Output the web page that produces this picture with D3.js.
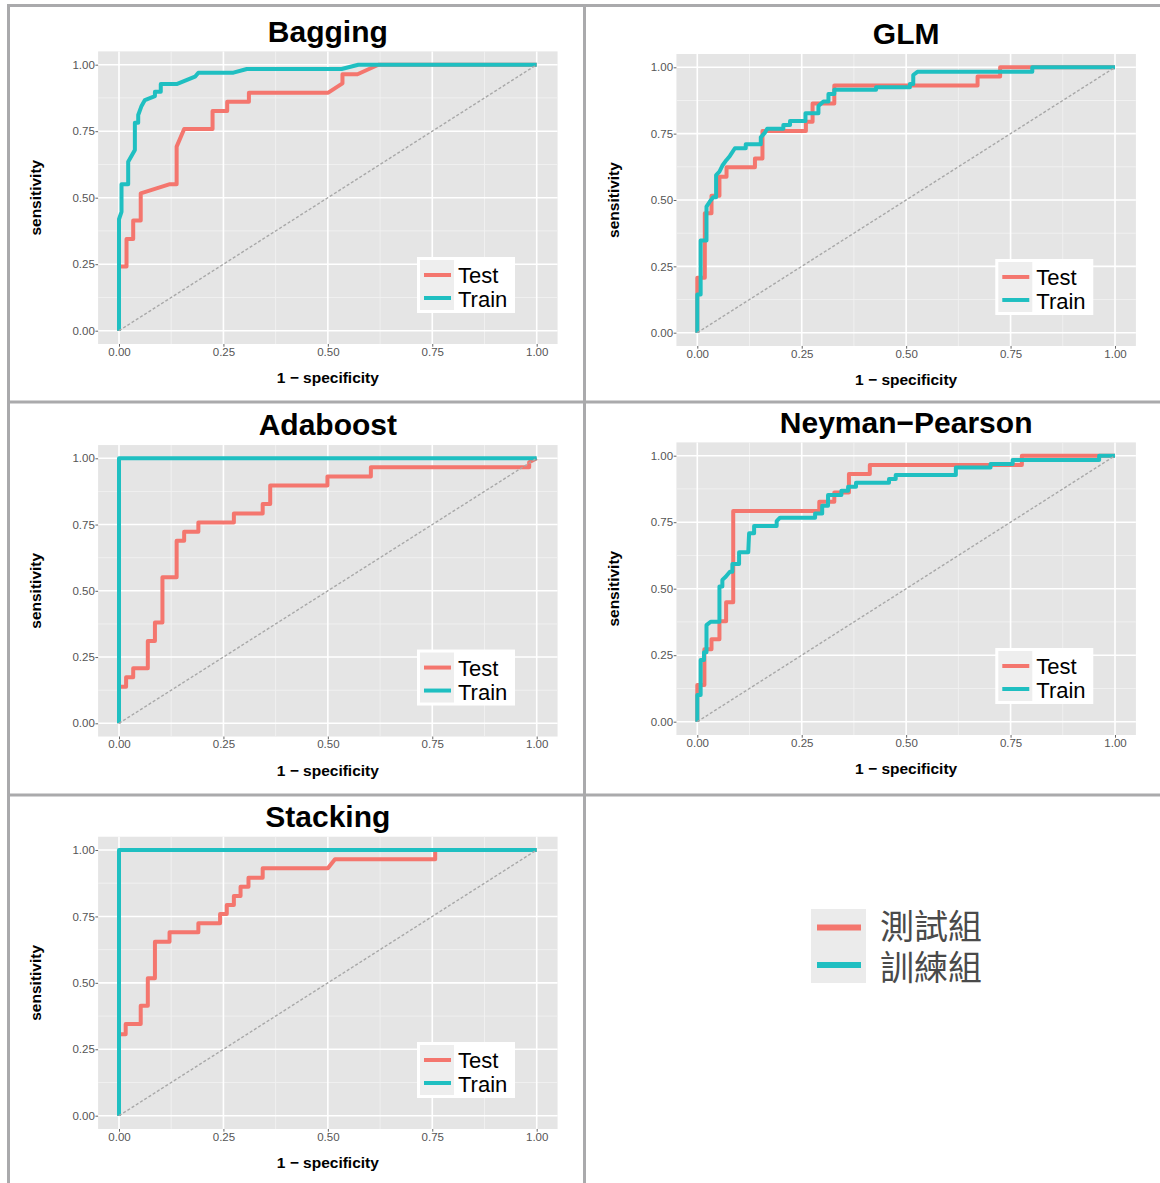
<!DOCTYPE html>
<html>
<head>
<meta charset="utf-8">
<script src="https://cdn.jsdelivr.net/npm/d3@7"></script>
<style>
body { margin: 0; background: #fff; }
svg { display: block; font-family: "Liberation Sans", Arial, Helvetica, sans-serif; }
</style>
</head>
<body>
<svg id="chart" width="1160" height="1183"></svg>
<script>
// ROC curve points [1 - specificity, sensitivity]
var models = ["Bagging", "GLM", "Adaboost", "Neyman\u2212Pearson", "Stacking"];

var baggingTest = [[0,0],[0,0.241],[0.018,0.241],[0.018,0.345],[0.034,0.345],[0.034,0.414],[0.052,0.414],[0.052,0.516],[0.122,0.551],[0.138,0.551],[0.138,0.692],[0.156,0.758],[0.224,0.758],[0.224,0.826],[0.259,0.826],[0.259,0.861],[0.311,0.861],[0.311,0.895],[0.501,0.895],[0.535,0.93],[0.535,0.964],[0.571,0.964],[0.621,1],[1,1]];
var baggingTrain = [[0,0],[0,0.419],[0.006,0.447],[0.006,0.551],[0.022,0.551],[0.022,0.635],[0.038,0.679],[0.038,0.782],[0.046,0.782],[0.046,0.811],[0.054,0.845],[0.062,0.867],[0.086,0.882],[0.086,0.898],[0.1,0.898],[0.1,0.927],[0.138,0.927],[0.182,0.955],[0.19,0.97],[0.274,0.97],[0.306,0.984],[0.533,0.984],[0.573,1],[1,1]];

var glmTest = [[0,0],[0,0.207],[0.018,0.207],[0.018,0.45],[0.034,0.45],[0.034,0.516],[0.053,0.516],[0.053,0.588],[0.07,0.588],[0.07,0.623],[0.138,0.623],[0.138,0.656],[0.156,0.656],[0.156,0.76],[0.26,0.76],[0.26,0.795],[0.276,0.795],[0.276,0.864],[0.328,0.864],[0.328,0.931],[0.671,0.931],[0.671,0.965],[0.725,0.965],[0.725,1],[1,1]];
var glmTrain = [[0,0],[0,0.144],[0.008,0.144],[0.008,0.347],[0.022,0.347],[0.022,0.475],[0.03,0.494],[0.038,0.51],[0.045,0.51],[0.045,0.594],[0.053,0.607],[0.061,0.632],[0.07,0.651],[0.078,0.666],[0.09,0.695],[0.116,0.695],[0.116,0.71],[0.152,0.71],[0.152,0.736],[0.162,0.754],[0.167,0.768],[0.206,0.768],[0.206,0.783],[0.222,0.783],[0.222,0.798],[0.259,0.798],[0.259,0.827],[0.29,0.827],[0.29,0.854],[0.302,0.871],[0.314,0.871],[0.314,0.899],[0.328,0.899],[0.328,0.915],[0.428,0.915],[0.428,0.925],[0.509,0.925],[0.509,0.937],[0.517,0.937],[0.517,0.971],[0.527,0.983],[0.802,0.983],[0.802,1],[1,1]];

var adaTest = [[0,0],[0,0.138],[0.017,0.138],[0.017,0.174],[0.034,0.174],[0.034,0.208],[0.069,0.208],[0.069,0.311],[0.086,0.311],[0.086,0.38],[0.104,0.38],[0.104,0.551],[0.138,0.551],[0.138,0.689],[0.156,0.689],[0.156,0.723],[0.19,0.723],[0.19,0.758],[0.275,0.758],[0.275,0.792],[0.344,0.792],[0.344,0.828],[0.362,0.828],[0.362,0.897],[0.499,0.897],[0.499,0.931],[0.603,0.931],[0.603,0.966],[0.982,0.966],[0.982,0.985],[1,1]];
var adaTrain = [[0,0],[0,1],[1,1]];

var npTest = [[0,0],[0,0.138],[0.017,0.138],[0.017,0.272],[0.034,0.272],[0.034,0.31],[0.053,0.31],[0.053,0.378],[0.069,0.378],[0.069,0.449],[0.086,0.449],[0.086,0.792],[0.292,0.792],[0.292,0.827],[0.328,0.827],[0.328,0.862],[0.363,0.862],[0.363,0.931],[0.413,0.931],[0.413,0.965],[0.777,0.965],[0.777,1],[1,1]];
var npTrain = [[0,0],[0,0.1],[0.008,0.1],[0.008,0.232],[0.016,0.232],[0.016,0.261],[0.022,0.261],[0.022,0.363],[0.032,0.376],[0.053,0.376],[0.053,0.508],[0.06,0.508],[0.06,0.533],[0.068,0.545],[0.078,0.564],[0.084,0.564],[0.084,0.593],[0.1,0.593],[0.1,0.637],[0.122,0.637],[0.124,0.708],[0.136,0.708],[0.136,0.736],[0.19,0.736],[0.19,0.754],[0.198,0.767],[0.282,0.767],[0.282,0.783],[0.299,0.783],[0.299,0.812],[0.313,0.812],[0.313,0.852],[0.345,0.852],[0.345,0.868],[0.361,0.868],[0.361,0.883],[0.38,0.883],[0.38,0.898],[0.459,0.898],[0.459,0.912],[0.475,0.912],[0.475,0.927],[0.619,0.927],[0.619,0.956],[0.702,0.956],[0.702,0.969],[0.755,0.969],[0.755,0.984],[0.962,0.984],[0.962,1],[1,1]];

var stackTest = [[0,0],[0,0.307],[0.016,0.307],[0.016,0.345],[0.052,0.345],[0.052,0.414],[0.069,0.414],[0.069,0.517],[0.086,0.517],[0.086,0.655],[0.121,0.655],[0.121,0.69],[0.19,0.69],[0.19,0.724],[0.242,0.724],[0.242,0.759],[0.258,0.759],[0.258,0.793],[0.275,0.793],[0.275,0.827],[0.291,0.827],[0.291,0.862],[0.31,0.862],[0.31,0.896],[0.344,0.896],[0.344,0.931],[0.5,0.931],[0.517,0.965],[0.757,0.965],[0.757,1],[1,1]];
var stackTrain = [[0,0],[0,1],[1,1]];

var testCurves = [baggingTest, glmTest, adaTest, npTest, stackTest];
var trainCurves = [baggingTrain, glmTrain, adaTrain, npTrain, stackTrain];

var tickValues = [0, 0.25, 0.5, 0.75, 1];
var minorTicks = [0.125, 0.375, 0.625, 0.875];
var seriesLabels = ["Test", "Train"];
var groupLabels = ["測試組", "訓練組"];
var xTitle = "1 \u2212 specificity";
var yTitle = "sensitivity";

var colors = ["#F4766E", "#1FBFC1"];

// pixel position of data 0 and 1 for each panel
var layout = [
	{x0: 119, x1: 536.7, y0: 330.7, y1: 64.7},
	{x0: 697.3, x1: 1115, y0: 332.7, y1: 67.3},
	{x0: 119, x1: 536.7, y0: 723.3, y1: 458.3},
	{x0: 697.3, x1: 1115, y0: 721.7, y1: 455.7},
	{x0: 119, x1: 536.7, y0: 1115.7, y1: 850}
];

var svg = d3.select("#chart");
svg.append("rect").attr("width", 1160).attr("height", 1183).attr("fill", "#fff");

for (var i = 0; i < models.length; i++) {
	var L = layout[i];
	var x = d3.scaleLinear().domain([0, 1]).range([L.x0, L.x1]);
	var y = d3.scaleLinear().domain([0, 1]).range([L.y0, L.y1]);
	var bx0 = x(-0.05), bx1 = x(1.05), by0 = y(-0.05), by1 = y(1.05);
	var g = svg.append("g");

	g.append("rect")
		.attr("x", bx0).attr("y", by1)
		.attr("width", bx1 - bx0).attr("height", by0 - by1)
		.attr("fill", "#E5E5E5");

	// grid
	minorTicks.forEach(function(t) {
		g.append("line").attr("x1", x(t)).attr("x2", x(t)).attr("y1", by0).attr("y2", by1)
			.attr("stroke", "#F2F2F2").attr("stroke-width", 0.9);
		g.append("line").attr("x1", bx0).attr("x2", bx1).attr("y1", y(t)).attr("y2", y(t))
			.attr("stroke", "#F2F2F2").attr("stroke-width", 0.9);
	});
	tickValues.forEach(function(t) {
		g.append("line").attr("x1", x(t)).attr("x2", x(t)).attr("y1", by0).attr("y2", by1)
			.attr("stroke", "#fff").attr("stroke-width", 1.6);
		g.append("line").attr("x1", bx0).attr("x2", bx1).attr("y1", y(t)).attr("y2", y(t))
			.attr("stroke", "#fff").attr("stroke-width", 1.6);
	});

	// axes
	var ax = g.append("g").attr("transform", "translate(0," + by0 + ")")
		.call(d3.axisBottom(x).tickValues(tickValues).tickFormat(d3.format(".2f")).tickSize(2.7).tickPadding(0.8));
	var ay = g.append("g").attr("transform", "translate(" + bx0 + ",0)")
		.call(d3.axisLeft(y).tickValues(tickValues).tickFormat(d3.format(".2f")).tickSize(2.7).tickPadding(0.6));
	[ax, ay].forEach(function(a) {
		a.select(".domain").remove();
		a.selectAll("line").attr("stroke", "#666");
		a.selectAll("text").attr("fill", "#555").style("font-size", "11.5px")
			.style("font-family", "'Liberation Sans', Arial, sans-serif");
	});

	// curves
	var line = d3.line().x(function(d) { return x(d[0]); }).y(function(d) { return y(d[1]); });
	g.append("path").attr("d", line(testCurves[i]))
		.attr("fill", "none").attr("stroke", colors[0]).attr("stroke-width", 4)
		.attr("stroke-linejoin", "round");
	g.append("path").attr("d", line(trainCurves[i]))
		.attr("fill", "none").attr("stroke", colors[1]).attr("stroke-width", 4)
		.attr("stroke-linejoin", "round");

	// reference diagonal
	g.append("line")
		.attr("x1", x(0)).attr("y1", y(0)).attr("x2", x(1)).attr("y2", y(1))
		.attr("stroke", "#A8A8A8").attr("stroke-width", 1.4).attr("stroke-dasharray", "3,2");

	// titles
	g.append("text").attr("x", (bx0 + bx1) / 2).attr("y", L.y1 - 23)
		.attr("text-anchor", "middle").style("font-size", "30px").style("font-weight", "bold")
		.text(models[i]);
	g.append("text").attr("x", (bx0 + bx1) / 2).attr("y", by0 + 39)
		.attr("text-anchor", "middle").style("font-size", "15.5px").style("font-weight", "bold")
		.text(xTitle);
	g.append("text")
		.attr("transform", "translate(" + (bx0 - 57.5) + "," + ((by0 + by1) / 2) + ") rotate(-90)")
		.attr("text-anchor", "middle").style("font-size", "15.5px").style("font-weight", "bold")
		.text(yTitle);

	// panel legend
	var lg = g.append("g").attr("transform", "translate(" + (bx1 - 140.6) + "," + (by0 - 87) + ")");
	lg.append("rect").attr("width", 98).attr("height", 56).attr("fill", "#fff");
	lg.append("rect").attr("x", 3).attr("y", 3).attr("width", 34).attr("height", 50).attr("fill", "#EEEEEE");
	seriesLabels.forEach(function(s, k) {
		lg.append("line").attr("x1", 7).attr("x2", 34).attr("y1", 18 + k * 23).attr("y2", 18 + k * 23)
			.attr("stroke", colors[k]).attr("stroke-width", 4);
		lg.append("text").attr("x", 41).attr("y", 26 + k * 24)
			.style("font-size", "22px").attr("fill", "#000").text(s);
	});
}

// big legend in the empty cell
var big = svg.append("g");
big.append("rect").attr("x", 811).attr("y", 909).attr("width", 55).attr("height", 74).attr("fill", "#EBEBEB");
[927.5, 965].forEach(function(yy, k) {
	big.append("line").attr("x1", 817).attr("x2", 861).attr("y1", yy).attr("y2", yy)
		.attr("stroke", colors[k]).attr("stroke-width", 6);
});
var bigText = big.append("text")
	.style("font-family", "'Noto Sans CJK TC', 'Noto Sans CJK SC', sans-serif")
	.style("font-size", "34px").attr("fill", "#4A4A4A");
groupLabels.forEach(function(s, k) {
	bigText.append("tspan").attr("x", 880).attr("y", 939 + k * 41).text(s);
});

// frame lines between cells
var frame = svg.append("g").attr("stroke", "#AAAAAC").attr("stroke-width", 3);
frame.append("line").attr("x1", 7).attr("x2", 1160).attr("y1", 5.5).attr("y2", 5.5);
frame.append("line").attr("x1", 8.5).attr("x2", 8.5).attr("y1", 4).attr("y2", 1183);
frame.append("line").attr("x1", 584.5).attr("x2", 584.5).attr("y1", 4).attr("y2", 1183);
frame.append("line").attr("x1", 7).attr("x2", 1160).attr("y1", 402).attr("y2", 402);
frame.append("line").attr("x1", 7).attr("x2", 1160).attr("y1", 795).attr("y2", 795);
</script>
</body>
</html>
